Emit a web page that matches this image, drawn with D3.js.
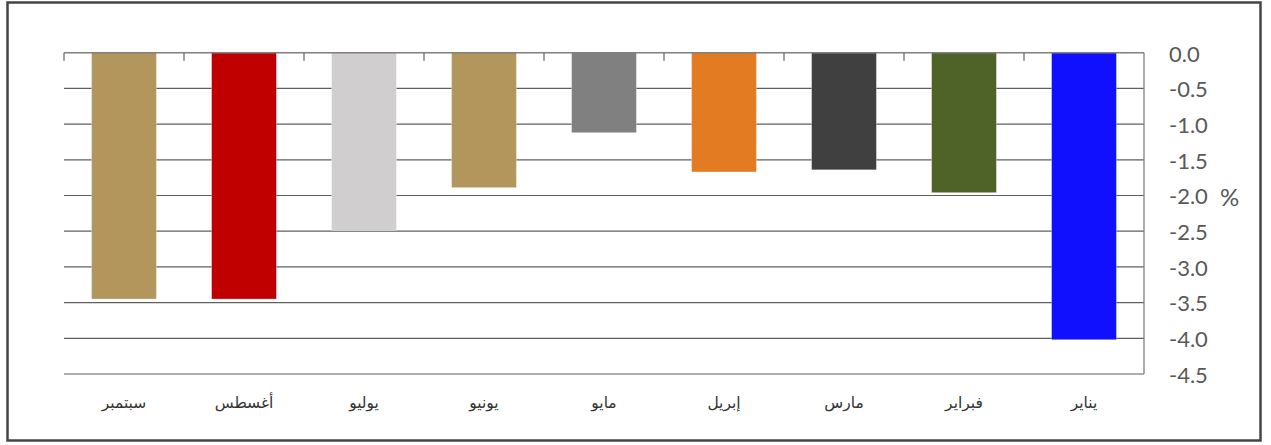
<!DOCTYPE html>
<html>
<head>
<meta charset="utf-8">
<script src="https://cdn.jsdelivr.net/npm/d3@7"></script>
<style>
html,body{margin:0;padding:0;background:#fff;}
svg{display:block;}
</style>
</head>
<body>
<svg id="chart" width="1271" height="445"></svg>
<script>
// Chronological order (January first); chart is drawn right-to-left
const categories = ["يناير","فبراير","مارس","إبريل","مايو","يونيو","يوليو","أغسطس","سبتمبر"];
const values = [-4.02,-1.96,-1.64,-1.67,-1.12,-1.89,-2.49,-3.45,-3.45];
const colors = ["#1010FF","#4F6228","#404040","#E27B21","#808080","#B3965C","#D0CECE","#C00000","#B3965C"];
const yTicks = [0,-0.5,-1,-1.5,-2,-2.5,-3,-3.5,-4,-4.5];
const unitLabel = "%";

const svg = d3.select("#chart");
const L = 64, R = 1144, T = 52.7, B = 374;

// outer frame
svg.append("rect").attr("x",7.5).attr("y",2.5).attr("width",1253).attr("height",438)
  .attr("fill","none").attr("stroke","#444").attr("stroke-width",2.5);

const x = d3.scaleBand().domain(categories).range([R, L]).paddingInner(0.46).paddingOuter(0.23);
const y = d3.scaleLinear().domain([0,-4.5]).range([T,B]);

// gridlines
svg.append("g").selectAll("line").data(yTicks.filter(d=>d!==0)).join("line")
  .attr("x1",L).attr("x2",R).attr("y1",d=>y(d)).attr("y2",d=>y(d))
  .attr("stroke","#5f5f5f").attr("stroke-width",1.2);

// bars
svg.append("g").selectAll("rect").data(categories).join("rect")
  .attr("x",d=>x(d)).attr("width",x.bandwidth())
  .attr("y",y(0)).attr("height",(d,i)=>y(values[i])-y(0))
  .attr("fill",(d,i)=>colors[i])
  .attr("stroke","rgba(255,255,255,0.35)").attr("stroke-width",0.8);

// right axis line
svg.append("line").attr("x1",R).attr("x2",R).attr("y1",y(0)).attr("y2",y(-4.5))
  .attr("stroke","#7f7f7f").attr("stroke-width",1.3);

// top category axis (line + ticks at band boundaries)
svg.append("line").attr("x1",L).attr("x2",R).attr("y1",y(0)).attr("y2",y(0))
  .attr("stroke","#7f7f7f").attr("stroke-width",1.6);
const step = x.step();
const bounds = d3.range(categories.length).map(i => L + i*step);
svg.append("g").selectAll("line").data(bounds).join("line")
  .attr("x1",d=>d).attr("x2",d=>d).attr("y1",y(0)).attr("y2",y(0)+8)
  .attr("stroke","#7f7f7f").attr("stroke-width",1.5);

// y axis labels (right side)
const yAxis = d3.axisRight(y).tickValues(yTicks).tickSize(0).tickPadding(25)
  .tickFormat(d=>d3.format(".1f")(d).replace("−","-"));
const gy = svg.append("g").attr("transform",`translate(${R},0)`).call(yAxis);
gy.select(".domain").remove();
gy.selectAll("text").attr("font-family","Lato, 'Open Sans', sans-serif").attr("font-size",22)
  .attr("fill","#595959").attr("text-anchor","start").attr("dy","0.38em");

svg.append("text").attr("x",1220).attr("y",y(-2)+2).attr("dy","0.35em")
  .attr("font-family","Lato, 'Open Sans', sans-serif").attr("font-size",24)
  .attr("fill","#595959").text(unitLabel);

// category labels below
svg.append("g").selectAll("text").data(categories).join("text")
  .attr("x",d=>x(d)+x.bandwidth()/2).attr("y",403).attr("dy","0.35em")
  .attr("text-anchor","middle").attr("font-family","'DejaVu Sans', sans-serif")
  .attr("font-size",15.5).attr("fill","#333").attr("direction","rtl").text(d=>d);
</script>
</body>
</html>
